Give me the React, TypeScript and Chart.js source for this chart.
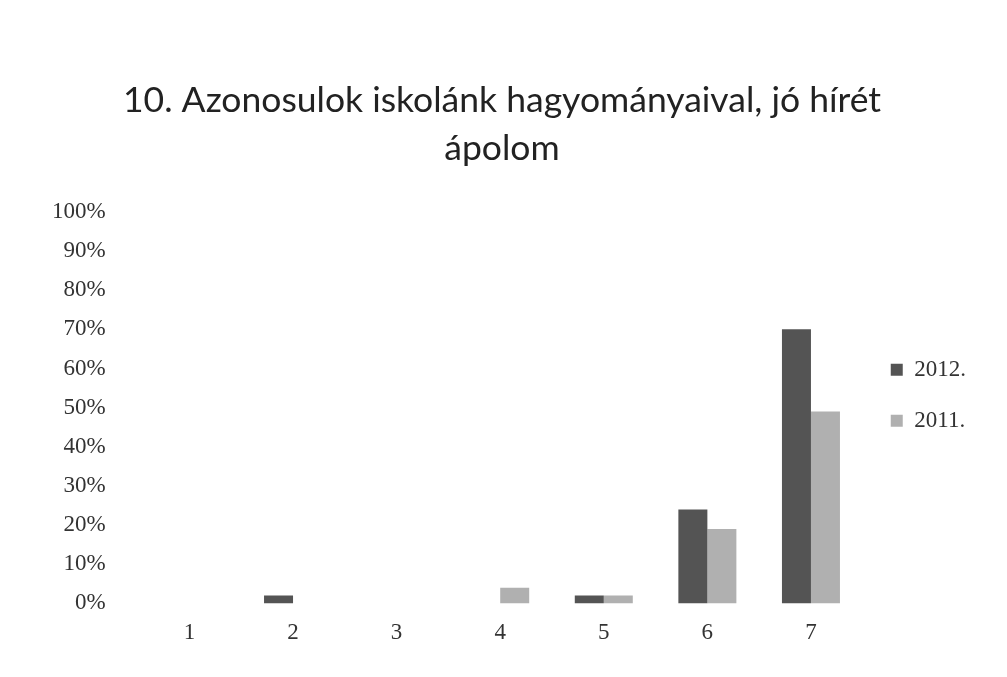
import React, { useEffect, useRef } from "react";
import { Chart, registerables } from "chart.js";

Chart.register(...registerables);

const categories = ["1", "2", "3", "4", "5", "6", "7"];
const values2012 = [0, 2, 0, 0, 2, 24, 70];
const values2011 = [0, 0, 0, 4, 2, 19, 49];
const seriesLabels = ["2012.", "2011."];
const titleLines = ["10. Azonosulok iskolánk hagyományaival, jó hírét", "ápolom"];

export default function App() {
  const ref = useRef<HTMLCanvasElement>(null);
  useEffect(() => {
    document.body.style.margin = "0";
    const ctx = ref.current!;
    const chart = new Chart(ctx, {
      type: "bar",
      data: {
        labels: categories,
        datasets: [
          {
            label: seriesLabels[0],
            data: values2012,
            backgroundColor: "#545454",
            borderWidth: 0,
            categoryPercentage: 0.56,
            barPercentage: 1,
          },
          {
            label: seriesLabels[1],
            data: values2011,
            backgroundColor: "#b0b0b0",
            borderWidth: 0,
            categoryPercentage: 0.56,
            barPercentage: 1,
          },
        ],
      },
      options: {
        animation: false,
        responsive: false,
        layout: { padding: { left: 28, right: 31, top: 77, bottom: 22 } },
        plugins: {
          title: {
            display: true,
            text: titleLines,
            font: { family: "Lato", size: 35.5, weight: "normal", lineHeight: 1.35 },
            color: "#222",
            padding: { top: 0, bottom: 39 },
          },
          legend: {
            display: true,
            position: "right",
            title: { display: true, text: " ", font: { size: 2 }, padding: { top: 28, bottom: 28 } },
            labels: {
              font: { family: "Liberation Serif", size: 23 },
              color: "#333",
              boxWidth: 12,
              boxHeight: 12,
              padding: 28,
            },
          },
          tooltip: { enabled: false },
        },
        scales: {
          x: {
            grid: { display: false },
            border: { display: false },
            ticks: {
              font: { family: "Liberation Serif", size: 23 },
              color: "#333",
              padding: 8,
            },
          },
          y: {
            min: 0,
            max: 100,
            grid: { display: false },
            border: { display: false },
            ticks: {
              stepSize: 10,
              font: { family: "Liberation Serif", size: 23 },
              color: "#333",
              padding: 24,
              callback: (v: any) => v + "%",
            },
          },
        },
      },
    });
    return () => chart.destroy();
  }, []);
  return <canvas ref={ref} width={1007} height={677} style={{ display: "block" }} />;
}
